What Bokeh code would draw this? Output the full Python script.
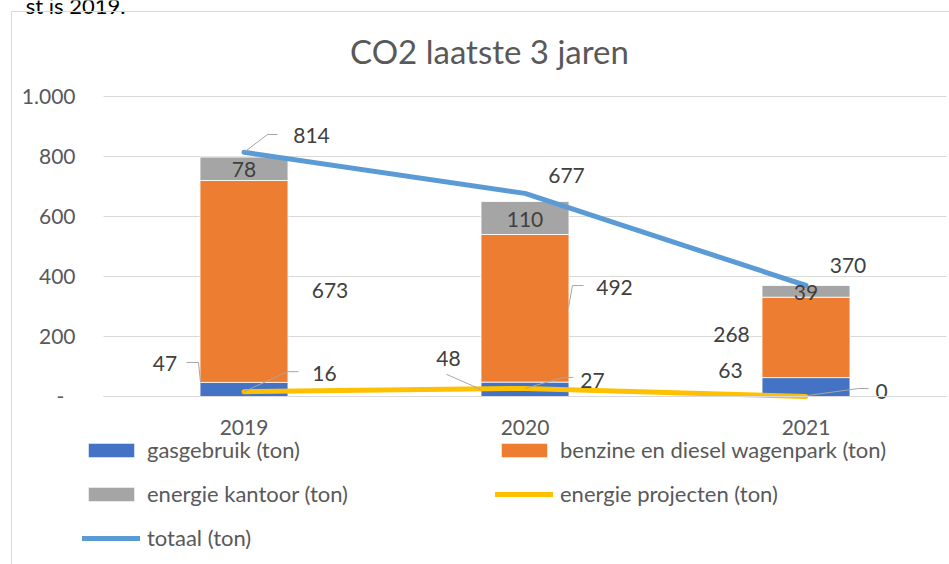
from bokeh.plotting import figure
from bokeh.models import (Range1d, FixedTicker, Legend, LegendItem, Label,
                          ColumnDataSource, InlineStyleSheet)
from bokeh.core.properties import value
from bokeh.embed import file_html
from bokeh.resources import INLINE

# ---------------- data ----------------
years = ["2019", "2020", "2021"]
gasgebruik = [47, 48, 63]
benzine_diesel = [673, 492, 268]
energie_kantoor = [78, 110, 39]
energie_projecten = [16, 27, 0]
totaal = [814, 677, 370]
y_ticks = [0, 200, 400, 600, 800, 1000]
y_tick_labels = ["-", "200", "400", "600", "800", "1.000"]
series_names = ["gasgebruik (ton)", "benzine en diesel wagenpark (ton)",
                "energie kantoor (ton)", "energie projecten (ton)", "totaal (ton)"]
title_text = "CO2 laatste 3 jaren"
page_text = "st is 2019."

# ---------------- layout / style ----------------
C_GAS, C_BENZ, C_KANT, C_PROJ, C_TOT = "#4472C4", "#ED7D31", "#A5A5A5", "#FFC000", "#5B9BD5"
FONT = "Lato"
AXIS_COL = "#595959"
LABEL_COL = "#404040"
GRID_COL = "#D9D9D9"
W, H = 949, 564
PL, PR, PT, PB = 103, 946, 96, 396        # plot area (canvas pixels)
N = len(years)
PX_X = (PR - PL) / N                        # pixels per category
PX_Y = (PB - PT) / 1000.0                   # pixels per ton
x_lo, x_hi = -PL / PX_X, (W - PL) / PX_X
y_lo, y_hi = -(H - PB) / PX_Y, PB / PX_Y
xs = [i + 0.5 for i in range(N)]            # category centres

border_css = InlineStyleSheet(css="""
:host::after {
  content: ""; position: absolute; left: 11px; top: 11px; right: 0; bottom: 0;
  border-left: 1px solid #D9D9D9; border-top: 1px solid #D9D9D9;
  pointer-events: none;
}
""")

p = figure(width=W, height=H, x_range=Range1d(x_lo, x_hi), y_range=Range1d(y_lo, y_hi),
           output_backend="svg", toolbar_location=None, title=None,
           min_border_left=0, min_border_right=0, min_border_top=0, min_border_bottom=0,
           outline_line_color=None, background_fill_color="white", border_fill_color="white",
           stylesheets=[border_css])

# axes fixed inside the frame
p.xgrid.visible = False
p.ygrid.visible = False
p.yaxis.fixed_location = 0
p.yaxis.ticker = FixedTicker(ticks=y_ticks)
# the zero tick uses the accounting-style dash, drawn below with its own indent
p.yaxis.major_label_overrides = {t: (l if t != 0 else "") for t, l in zip(y_ticks, y_tick_labels)}
p.yaxis.axis_line_color = None
p.yaxis.major_tick_line_color = None
p.yaxis.minor_tick_line_color = None
p.yaxis.major_tick_out = 0
p.yaxis.major_label_standoff = 28
p.yaxis.major_label_text_font = FONT
p.yaxis.major_label_text_font_size = "21px"
p.yaxis.major_label_text_color = AXIS_COL

p.xaxis.fixed_location = 0
p.xaxis.bounds = (0, N)
p.xaxis.ticker = FixedTicker(ticks=xs)
p.xaxis.major_label_overrides = {x: yr for x, yr in zip(xs, years)}
p.xaxis.axis_line_color = GRID_COL
p.xaxis.major_tick_line_color = None
p.xaxis.minor_tick_line_color = None
p.xaxis.major_tick_out = 0
p.xaxis.major_label_standoff = 23
p.xaxis.major_label_text_font = FONT
p.xaxis.major_label_text_font_size = "21px"
p.xaxis.major_label_text_color = AXIS_COL

# zero tick label ("-")
p.text(x=[0], y=[y_ticks[0]], text=[y_tick_labels[0]], x_offset=-43, text_align="center",
       text_baseline="middle", text_font=value(FONT), text_font_size="21px",
       text_color=AXIS_COL)

# horizontal gridlines across the plot area only
p.segment(x0=0, x1=N, y0=y_ticks, y1=y_ticks, line_color=GRID_COL, line_width=1,
          level="underlay")

# stacked bars
src = ColumnDataSource(dict(x=xs, gas=gasgebruik, benz=benzine_diesel, kant=energie_kantoor))
bars = p.vbar_stack(["gas", "benz", "kant"], x="x", width=0.313, source=src,
                    fill_color=[C_GAS, C_BENZ, C_KANT], line_color="white", line_width=0.8)

# lines
r_proj = p.line(x=xs, y=energie_projecten, line_color=C_PROJ, line_width=5,
                line_cap="round", line_join="round")
r_tot = p.line(x=xs, y=totaal, line_color=C_TOT, line_width=5,
               line_cap="round", line_join="round")

# ---------------- data labels ----------------
anchors = {}
base = [0] * N
for key, vals in (("gas", gasgebruik), ("benz", benzine_diesel), ("kant", energie_kantoor)):
    anchors[key] = [b + v / 2 for b, v in zip(base, vals)]
    base = [b + v for b, v in zip(base, vals)]
anchors["proj"] = list(energie_projecten)
anchors["tot"] = list(totaal)
values_of = {"gas": gasgebruik, "benz": benzine_diesel, "kant": energie_kantoor,
             "proj": energie_projecten, "tot": totaal}

# label offsets in pixels (dx right, dy down) from anchor
offsets = {
    "gas": [(-79, -26), (-76.5, -31), (-75.5, -16.5)],
    "benz": [(86, 9), (89.5, -21), (-74.5, -3)],
    "kant": [(0, 1), (0, 1), (0, 1)],
    "proj": [(80.5, -18), (67.5, -8), (75.5, -5)],
    "tot": [(67.5, -17), (41.5, -18), (42, -20)],
}
lx, ly, lt, ldx, ldy = [], [], [], [], []
for key in ("gas", "benz", "kant", "proj", "tot"):
    for i in range(N):
        lx.append(xs[i])
        ly.append(anchors[key][i])
        lt.append(str(values_of[key][i]))
        ldx.append(offsets[key][i][0])
        ldy.append(offsets[key][i][1])

# leader lines: (series, category index, pixel offsets from anchor)
leaders = [
    ("tot", 0, [(0, 0), (23.5, -17.8), (33.5, -17.8)]),
    ("gas", 0, [(-43.5, -7), (-45.5, -27), (-57.5, -27)]),
    ("proj", 0, [(0, 0), (43.5, -20), (54.5, -20)]),
    ("gas", 1, [(-44.5, 0), (-78.5, -15)]),
    ("benz", 1, [(43.5, -0.8), (47.5, -22.8), (58.5, -22.8)]),
    ("proj", 1, [(0, 0), (38.5, -11), (48.5, -11)]),
    ("proj", 2, [(1.5, -1), (52.5, -8), (62.5, -8)]),
]
mxs, mys = [], []
for key, i, pts in leaders:
    ax, ay = xs[i], anchors[key][i]
    mxs.append([ax + dx / PX_X for dx, dy in pts])
    mys.append([ay - dy / PX_Y for dx, dy in pts])
p.multi_line(xs=mxs, ys=mys, line_color="#A6A6A6", line_width=1)

p.text(x=lx, y=ly, text=lt, x_offset=ldx, y_offset=ldy, text_align="center",
       text_baseline="middle", text_font=value(FONT), text_font_size="21px", text_color=LABEL_COL)

# ---------------- legend ----------------
legend = Legend(
    items=[LegendItem(label=n, renderers=[r]) for n, r in
           zip(series_names, [bars[0], bars[1], bars[2], r_proj, r_tot])],
    location=(82, 13), orientation="horizontal", ncols=2,
    glyph_width=58, glyph_height=18, label_standoff=7, label_width=331, label_height=20,
    spacing=17, padding=0, margin=0, border_line_color=None, background_fill_alpha=0,
    label_text_font=FONT, label_text_font_size="22px", label_text_color=AXIS_COL,
)
p.add_layout(legend)

# ---------------- title and page text ----------------
p.add_layout(Label(x=489, y=H - 50, x_units="screen", y_units="screen", text=title_text,
                   text_align="center", text_baseline="middle", text_font=FONT,
                   text_font_size="33px", text_color=AXIS_COL))
p.add_layout(Label(x=125, y=H - 5, x_units="screen", y_units="screen", text=page_text,
                   text_align="right", text_baseline="middle", text_font=FONT,
                   text_font_size="22px", text_color="black"))

open("out.html", "w").write(file_html(p, INLINE))
